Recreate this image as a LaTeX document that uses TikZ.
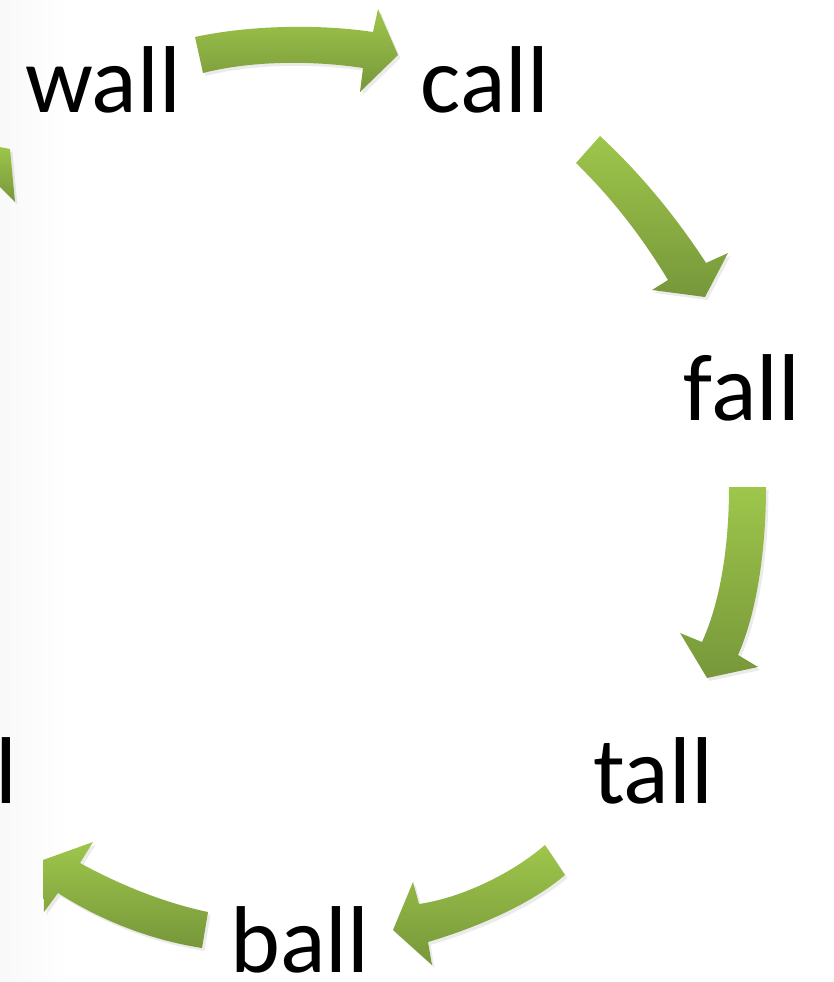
\documentclass[tikz,border=0pt]{standalone}
\usepackage{fontspec}
\setmainfont{Carlito}
\usetikzlibrary{shadows}

\definecolor{arrowtop}{HTML}{9EC64B}
\definecolor{arrowbot}{HTML}{77973A}

\begin{document}
\begin{tikzpicture}[x=0.01cm,y=-0.01cm,
        word/.style={anchor=base,inner sep=0pt,
            font=\fontsize{27}{30}\selectfont},
        blockarrow/.style={top color=arrowtop,bottom color=arrowbot,
            draw=none,drop shadow={shadow xshift=0.25mm,shadow yshift=-0.3mm,
            opacity=0.08,fill=black}}]
        \useasboundingbox (0,0) rectangle (834,982);
        \clip (0,0) rectangle (834,982);
        \fill[left color=gray!5,right color=white] (0,0) rectangle (70,982);

        \node[word] at (103,113) (wall)  {wall};
        \node[word] at (485,113) (call)  {call};
        \node[word] at (742,420) (fall)  {fall};
        \node[word] at (653,803) (tall)  {tall};
        \node[word] at (300,972) (ball)  {ball};
        \node[word] at (6,803)   (left)  {l};

        % wall -> call
        \path[blockarrow] (195,37) .. controls (250,25) and (320,24) .. (373,32)
            -- (378,9) -- (398,55) -- (360,92) -- (363,68)
            .. controls (310,60) and (250,61) .. (203,73) -- cycle;
        % call -> fall
        \path[blockarrow] (600,136) .. controls (641,174) and (676,217) .. (706,263)
            -- (728,253) -- (705,297) -- (652,290) -- (668,280)
            .. controls (642,237) and (612,198) .. (576,163) -- cycle;
        % fall -> tall
        \path[blockarrow] (766,487) .. controls (766,545) and (758,610) .. (738,655)
            -- (758,667) -- (707,678) -- (680,633) -- (702,642)
            .. controls (722,598) and (729,540) .. (729,487) -- cycle;
        % tall -> ball
        \path[blockarrow] (565,875) .. controls (530,905) and (475,928) .. (428,942)
            -- (432,965) -- (393,930) -- (413,882) -- (419,904)
            .. controls (460,898) and (510,875) .. (545,845) -- cycle;
        % ball -> l
        \path[blockarrow] (202,948) .. controls (150,940) and (100,920) .. (58,893)
            -- (44,912) -- (43,860) -- (93,842) -- (80,863)
            .. controls (120,885) and (165,903) .. (208,912) -- cycle;
        % l -> wall (cut off)
        \path[blockarrow] (-6,146) -- (10,149) -- (15,202) -- (-6,181) -- cycle;
    \end{tikzpicture}
\end{document}
